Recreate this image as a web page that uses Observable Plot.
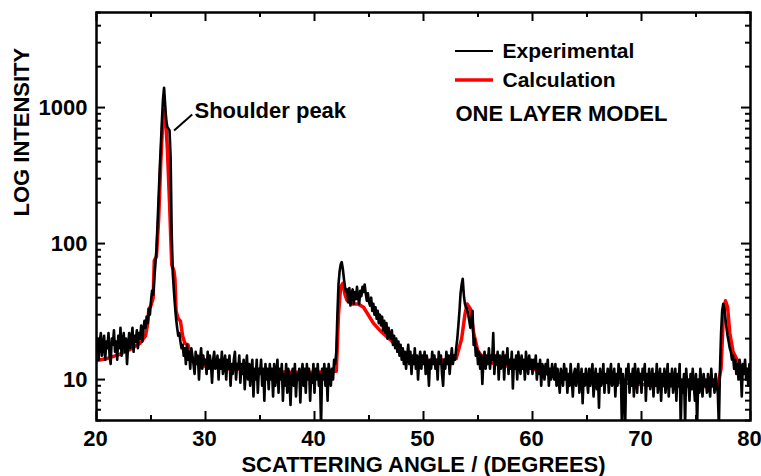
<!DOCTYPE html>
<html><head><meta charset="utf-8">
<script src="https://cdn.jsdelivr.net/npm/d3@7"></script>
<script src="https://cdn.jsdelivr.net/npm/@observablehq/plot@0.6"></script>
<style>body{margin:0;background:#fff;} #chart{width:761px;height:476px;}</style>
</head><body><div id="chart"></div>
<script>
// Experimental scan: first angle and step (degrees), intensities
const expStartAngle = 20;
const expStepAngle = 0.1;
const expIntensity = [
  16, 20, 14, 19, 22, 15, 18, 21, 14, 19,
  17, 22, 15, 13, 20, 18, 23, 16, 19, 14,
  21, 17, 24, 15, 19, 22, 16, 20, 13, 18,
  22, 17, 20, 24, 16, 21, 19, 23, 17, 22,
  20, 25, 19, 23, 27, 24, 29, 26, 33, 30,
  38, 45, 42, 55, 70, 90, 140, 220, 350, 520,
  800, 1150, 1400, 1050, 800, 720, 700, 680, 430, 120,
  60, 45, 35, 28, 24, 21, 22, 19, 17, 18,
  15, 17, 13, 18, 14, 16, 12, 17, 15, 13,
  11, 16, 13, 15, 10, 14, 17, 12, 15, 13,
  14, 11, 16, 12, 15, 13, 9.5, 14, 16, 12,
  13, 15, 10, 14, 12, 16, 11, 13, 15, 10,
  14, 12, 15, 9, 13, 11, 14, 16, 10, 13,
  12, 15, 9.5, 13, 11, 14, 8.5, 12, 15, 10,
  13, 9, 12, 14, 7.5, 12, 10, 14, 8, 12,
  11, 14, 9, 12, 7, 13, 10, 12, 8.5, 13,
  10, 12, 7.5, 13, 9, 11, 14, 8, 12, 10,
  13, 7, 11, 9, 13, 8, 12, 10, 6.5, 11,
  12, 9, 13, 7.5, 11, 10, 12, 6.8, 11, 13,
  9, 12, 8, 13, 10, 12, 7, 11, 9.5, 13,
  8, 12, 10, 13, 9, 11, 4.5, 12, 10, 13,
  9, 12, 7, 13, 11, 9, 12, 10, 14, 13,
  16, 30, 50, 62, 70, 73, 65, 55, 48, 44,
  46, 37, 47, 35, 43, 46, 36, 44, 39, 48,
  40, 36, 45, 41, 48, 44, 50, 43, 38, 43,
  37, 35, 40, 32, 36, 30, 34, 28, 32, 26,
  30, 25, 29, 23, 27, 22, 26, 20, 24, 21,
  20, 23, 18, 21, 17, 20, 16, 19, 15, 18,
  14, 17, 13, 16, 12, 15, 18, 13, 16, 11,
  15, 13, 17, 12, 15, 10, 14, 16, 12, 15,
  13, 16, 11, 15, 13, 9, 14, 12, 16, 13,
  15, 12, 14, 10, 16, 13, 15, 11, 9, 14,
  12, 16, 13, 15, 11, 14, 17, 13, 15, 14,
  17, 20, 25, 32, 43, 50, 55, 42, 36, 34,
  33, 30, 27, 24, 28, 32, 18, 20, 15, 17,
  13, 16, 12, 15, 9.3, 14, 16, 12, 15, 13,
  17, 12, 15, 14, 22, 11, 15, 13, 16, 10,
  15, 12, 14, 16, 10, 15, 13, 17, 11, 14,
  12, 16, 8.6, 14, 12, 15, 10, 16, 13, 11,
  15, 12, 14, 10, 16, 13, 11, 15, 12, 14,
  11, 14, 12, 15, 10, 13, 11, 14, 9, 13,
  12, 10, 13, 11, 14, 9, 12, 10, 13, 11,
  10, 13, 9, 12, 10, 8, 12, 11, 9, 13,
  10, 12, 8, 11, 9, 13, 10, 7.5, 11, 12,
  9, 11, 13, 8, 10, 12, 6.7, 11, 9, 12,
  10, 8, 12, 9, 11, 13, 7.5, 10, 12, 8.5,
  11, 6.2, 12, 9, 10, 13, 8, 11, 9.5, 12,
  8, 11, 13, 9, 10, 12, 7.5, 11, 9, 13,
  10, 12, 4.5, 11, 9, 4.5, 12, 10, 13, 8,
  11, 9, 12, 7.5, 13, 10, 8, 12, 9.5, 11,
  8, 12, 10, 13, 7, 11, 9, 12, 8.5, 10,
  12, 7.5, 11, 9, 13, 8, 10, 12, 7, 11,
  9, 12, 8, 10, 13, 7.5, 11, 9, 12, 8,
  10, 12, 7, 11, 9, 13, 4.5, 10, 8, 11,
  4.6, 12, 9, 10, 7, 11, 8.5, 12, 9, 7,
  11, 4.5, 10, 8, 12, 9, 7.5, 11, 9, 10,
  8, 11, 9, 7.5, 12, 9, 10, 8, 11, 9,
  8, 4.5, 12, 22, 32, 36, 33, 28, 24, 21,
  19, 17, 16, 14, 15, 12, 14, 11, 13, 10,
  14, 12, 7.5, 13, 11, 14, 10, 12, 9, 13,
  11
];

// Calculated (one layer model) curve
const calcAngle = [20, 21, 22, 23, 24, 24.5, 24.7, 24.8, 25.0, 25.2, 25.3, 25.5, 25.7, 25.9, 26.1, 26.2, 26.3, 26.5, 26.7, 26.9,
  27.1, 27.2, 27.3, 27.5, 27.7, 27.9, 28.1, 28.4, 28.6, 29.0, 29.5, 30, 32, 34, 36, 38, 40, 42.0, 42.2, 42.4,
  42.6, 42.8, 43.0, 43.5, 44.0, 44.5, 45.4, 46.0, 47.0, 48.0, 48.5, 49.0, 50, 51, 52, 53, 53.5, 53.8, 54.0, 54.3,
  54.6, 55.0, 55.5, 56, 57, 58, 59, 60, 61, 62, 63, 65, 66, 68, 70, 72, 74, 76, 77.0, 77.3,
  77.5, 77.7, 77.9, 78.1, 78.4, 78.8, 79.2, 80];
const calcIntensity = [13.8, 14.3, 15.2, 16.5, 18.5, 21, 26, 33, 35, 40, 75, 80, 150, 400, 850, 960, 900, 500, 200, 70,
  63, 55, 32, 28, 27, 21, 18.5, 18, 15, 13.8, 13, 12.5, 12, 11.8, 11.5, 11.3, 11.3, 11.5, 30, 48,
  51, 42, 38, 36, 36, 34, 26, 23, 19.5, 16, 14.5, 14, 13.8, 13.8, 14, 14.3, 20, 30, 36, 33,
  22, 16, 14.5, 13.5, 12.7, 12.5, 12.4, 12, 11.3, 10.5, 10.2, 10.0, 9.8, 9.5, 9.2, 9.0, 8.9, 8.9, 9.0, 12,
  28, 38, 34, 22, 16, 13.8, 12, 10.3];

const seriesNames = ["Experimental", "Calculation"];
const seriesColors = ["#000000", "#ff0000"];
const modelLabel = "ONE LAYER MODEL";
const xTitle = "SCATTERING ANGLE / (DEGREES)";
const yTitle = "LOG INTENSITY";
const xMajorTicks = [20, 30, 40, 50, 60, 70, 80];
const xMinorTicks = [25, 35, 45, 55, 65, 75];
const yMajorTicks = [10, 100, 1000];
const yMinorTicks = [5, 6, 7, 8, 9, 20, 30, 40, 50, 60, 70, 80, 90, 200, 300, 400, 500, 600, 700, 800, 900, 2000, 3000, 4000, 5000];
const annotationText = "Shoulder peak";
const annotationAngle = 28.99, annotationIntensity = 942;
const leaderFrom = [27.12, 678], leaderTo = [28.78, 889];

const expData = expIntensity.map((v, i) => ({angle: +(expStartAngle + i * expStepAngle).toFixed(2), intensity: v}));
const calcData = calcAngle.map((a, i) => ({angle: a, intensity: calcIntensity[i]}));

const W = 761, H = 476, mL = 96, mR = 11, mT = 12, mB = 56;
const iw = W - mL - mR, ih = H - mT - mB;
const font = "'Liberation Sans', Arial, Helvetica, sans-serif";
const fmt = d3.format("d");

const chart = Plot.plot({
  width: W, height: H,
  marginLeft: mL, marginRight: mR, marginTop: mT, marginBottom: mB,
  style: {fontFamily: font, fontSize: "22px", fontWeight: "bold", color: "#000", background: "#fff", overflow: "visible"},
  x: {domain: [20, 80]},
  y: {type: "log", domain: [5, 5000]},
  marks: [
    Plot.line(calcData, {x: "angle", y: "intensity", stroke: seriesColors[1], strokeWidth: 3.5, clip: true}),
    Plot.line(expData, {x: "angle", y: "intensity", stroke: seriesColors[0], strokeWidth: 2.6, clip: true}),
    Plot.frame({stroke: "#000", strokeWidth: 2.5}),
    Plot.tickX(xMajorTicks, {x: d => d, insetTop: ih - 9, strokeWidth: 2}),
    Plot.tickX(xMajorTicks, {x: d => d, insetBottom: ih - 9, strokeWidth: 2}),
    Plot.tickX(xMinorTicks, {x: d => d, insetTop: ih - 5, strokeWidth: 2}),
    Plot.tickX(xMinorTicks, {x: d => d, insetBottom: ih - 5, strokeWidth: 2}),
    Plot.tickY(yMajorTicks, {y: d => d, insetRight: iw - 9, strokeWidth: 2}),
    Plot.tickY(yMajorTicks, {y: d => d, insetLeft: iw - 9, strokeWidth: 2}),
    Plot.tickY(yMinorTicks, {y: d => d, insetRight: iw - 5, strokeWidth: 2}),
    Plot.tickY(yMinorTicks, {y: d => d, insetLeft: iw - 5, strokeWidth: 2}),
    Plot.axisX({ticks: xMajorTicks, tickSize: 0, tickPadding: 10, tickFormat: fmt, label: null, fontSize: 22, fontWeight: "bold", dx: -1}),
    Plot.axisY({ticks: yMajorTicks, tickSize: 0, tickPadding: 9, tickFormat: fmt, label: null, fontSize: 22, fontWeight: "bold"}),
    Plot.text([xTitle], {text: d => d, frameAnchor: "bottom", lineAnchor: "middle", dy: 44, fontSize: 22, fontWeight: "bold"}),
    Plot.text([yTitle], {text: d => d, frameAnchor: "left", lineAnchor: "middle", dx: -75, rotate: -90, fontSize: 22, fontWeight: "bold"}),
    Plot.link([0], {x1: () => leaderFrom[0], y1: () => leaderFrom[1], x2: () => leaderTo[0], y2: () => leaderTo[1], stroke: "#000", strokeWidth: 2}),
    Plot.text([annotationText], {text: d => d, x: () => annotationAngle, y: () => annotationIntensity, textAnchor: "start", lineAnchor: "middle", fontSize: 22, fontWeight: "bold"}),
    Plot.text([seriesNames[0]], {text: d => d, frameAnchor: "top-left", lineAnchor: "middle", dx: 406, dy: 39, textAnchor: "start", fontSize: 21, fontWeight: "bold"}),
    Plot.text([seriesNames[1]], {text: d => d, frameAnchor: "top-left", lineAnchor: "middle", dx: 406, dy: 68, textAnchor: "start", fontSize: 21, fontWeight: "bold"}),
    Plot.text([modelLabel], {text: d => d, frameAnchor: "top-left", lineAnchor: "middle", dx: 359, dy: 101.5, textAnchor: "start", fontSize: 22, fontWeight: "bold"})
  ]
});

// legend line samples
const svg = d3.select(chart);
[[51, seriesColors[0], 2.2], [80, seriesColors[1], 3.5]].forEach(([y, c, w]) => {
  svg.append("line").attr("x1", 455).attr("x2", 493).attr("y1", y).attr("y2", y)
    .attr("stroke", c).attr("stroke-width", w);
});
document.getElementById("chart").appendChild(chart);
</script>
</body></html>
